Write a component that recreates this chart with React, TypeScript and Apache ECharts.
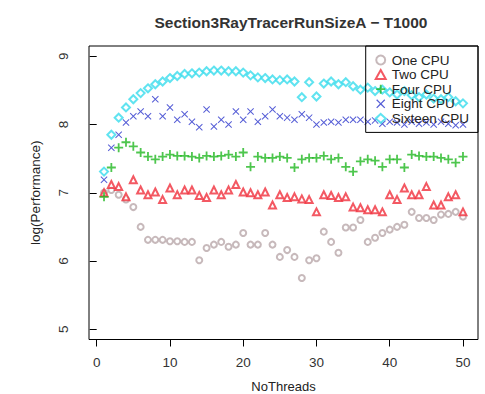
import React, { useEffect, useRef } from "react";
import * as echarts from "echarts";

const threads = Array.from({ length: 50 }, (_, i) => i + 1);

const oneCPU = [7.00, 7.04, 6.97, 6.90, 6.79, 6.50, 6.31, 6.31, 6.31, 6.29, 6.29, 6.28, 6.28, 6.01, 6.19, 6.24, 6.28, 6.21, 6.24, 6.41, 6.24, 6.24, 6.41, 6.24, 6.06, 6.16, 6.06, 5.75, 6.01, 6.04, 6.43, 6.28, 6.12, 6.49, 6.49, 6.60, 6.28, 6.34, 6.41, 6.46, 6.50, 6.53, 6.72, 6.63, 6.63, 6.60, 6.68, 6.69, 6.72, 6.65];
const twoCPU = [7.00, 7.12, 7.09, 6.94, 7.19, 7.04, 6.97, 7.01, 6.90, 7.07, 6.97, 7.04, 7.04, 6.96, 6.93, 7.04, 6.97, 7.04, 7.12, 7.01, 7.00, 6.97, 7.01, 6.82, 6.97, 6.93, 6.94, 6.91, 6.90, 6.72, 6.97, 6.96, 6.93, 6.94, 6.79, 6.78, 6.75, 6.75, 6.72, 6.97, 6.90, 7.07, 6.97, 6.97, 7.09, 6.82, 6.82, 6.94, 6.97, 6.72];
const fourCPU = [6.94, 7.37, 7.66, 7.74, 7.68, 7.59, 7.53, 7.49, 7.53, 7.56, 7.54, 7.54, 7.53, 7.51, 7.54, 7.53, 7.54, 7.56, 7.53, 7.59, 7.38, 7.53, 7.51, 7.51, 7.53, 7.51, 7.37, 7.49, 7.51, 7.51, 7.54, 7.49, 7.51, 7.38, 7.31, 7.46, 7.49, 7.47, 7.38, 7.49, 7.49, 7.37, 7.56, 7.54, 7.53, 7.53, 7.51, 7.49, 7.44, 7.53];
const eightCPU = [7.19, 7.66, 7.85, 8.03, 8.12, 8.19, 8.12, 8.37, 8.12, 8.25, 8.07, 8.15, 8.04, 7.96, 8.22, 7.97, 8.07, 8.00, 8.19, 8.07, 8.19, 8.04, 8.12, 8.22, 8.12, 8.10, 8.07, 8.15, 8.10, 8.00, 8.03, 8.04, 8.03, 8.07, 8.07, 8.07, 8.04, 8.06, 8.01, 8.04, 8.03, 8.00, 8.04, 8.01, 8.03, 8.00, 8.04, 8.01, 7.99, 8.00];
const sixteenCPU = [7.31, 7.85, 8.10, 8.25, 8.37, 8.46, 8.53, 8.59, 8.63, 8.68, 8.71, 8.74, 8.75, 8.76, 8.78, 8.79, 8.79, 8.78, 8.78, 8.76, 8.72, 8.69, 8.68, 8.66, 8.65, 8.66, 8.63, 8.40, 8.62, 8.41, 8.60, 8.63, 8.59, 8.62, 8.56, 8.51, 8.54, 8.49, 8.51, 8.47, 8.44, 8.49, 8.43, 8.40, 8.44, 8.38, 8.37, 8.40, 8.34, 8.31];

const xTicks = [0, 10, 20, 30, 40, 50];
const yTicks = [5, 6, 7, 8, 9];

const PLUS = "path://M4,0H6V4H10V6H6V10H4V6H0V4H4Z";
const CROSS = "path://M1,0L5,4L9,0L10,1L6,5L10,9L9,10L5,6L1,10L0,9L4,5L0,1Z";

const FONT = "Liberation Sans, Arial, sans-serif";

export default function App() {
  const ref = useRef<HTMLDivElement>(null);
  useEffect(() => {
    document.body.style.margin = "0";
    const chart = echarts.init(ref.current!, undefined, { renderer: "svg" });
    const mk = (name: string, vals: number[], symbol: string, color: string, size: number, empty: boolean) => ({
      name,
      type: "scatter",
      data: threads.map((t, i) => [t, vals[i]]),
      symbol,
      symbolSize: size,
      itemStyle: empty ? { color, borderWidth: 1.2 } : { color },
    });
    chart.setOption({
      animation: false,
      backgroundColor: "#ffffff",
      textStyle: { fontFamily: FONT },
      title: {
        text: "Section3RayTracerRunSizeA \u2212 T1000",
        left: 286,
        top: 9,
        textAlign: "center",
        textStyle: { fontFamily: FONT, fontSize: 15.5, fontWeight: "bold", color: "#333" },
      },
      grid: {
        left: 89, right: 7, top: 46, bottom: 54.5,
        outerBoundsMode: "none",
        containLabel: false,
        show: true, borderColor: "#000", borderWidth: 1, backgroundColor: "transparent",
      },
      legend: {
        right: 7,
        top: 46,
        orient: "vertical",
        padding: [7, 9, 7, 9],
        itemWidth: 10,
        itemHeight: 9,
        itemGap: 0.6,
        borderColor: "#000",
        borderWidth: 1,
        backgroundColor: "transparent",
        textStyle: { fontFamily: FONT, fontSize: 13.5, lineHeight: 14, color: "#222", padding: [0, 0, 0, 1] },
        data: ["One CPU", "Two CPU", "Four CPU", "Eight CPU", "Sixteen CPU"],
      },
      xAxis: {
        type: "value",
        min: -1.05,
        max: 52.05,
        axisLine: { show: false },
        axisTick: { show: true, customValues: xTicks, length: 7, lineStyle: { color: "#000" } },
        axisLabel: { customValues: xTicks, margin: 16, fontSize: 13.5, color: "#333", fontFamily: FONT },
        splitLine: { show: false },
        name: "NoThreads",
        nameLocation: "middle",
        nameGap: 40,
        nameTextStyle: { fontSize: 13, color: "#222", fontFamily: FONT },
      },
      yAxis: {
        type: "value",
        min: 4.85,
        max: 9.15,
        axisLine: { show: false },
        axisTick: { show: true, customValues: yTicks, length: 7, lineStyle: { color: "#000" } },
        axisLabel: { customValues: yTicks, margin: 19, rotate: 90, fontSize: 13.5, color: "#333", fontFamily: FONT },
        splitLine: { show: false },
        name: "log(Performance)",
        nameLocation: "middle",
        nameRotate: 90,
        nameGap: 47,
        nameTextStyle: { fontSize: 13.5, color: "#222", fontFamily: FONT },
      },
      series: [
        mk("One CPU", oneCPU, "emptyCircle", "#b9a8aa", 6, true),
        mk("Two CPU", twoCPU, "emptyTriangle", "#f0303c", 7, true),
        mk("Four CPU", fourCPU, PLUS, "#22b822", 9, false),
        mk("Eight CPU", eightCPU, CROSS, "#2a34cc", 7, false),
        mk("Sixteen CPU", sixteenCPU, "emptyDiamond", "#38dcec", 8, true),
      ],
    });
    return () => chart.dispose();
  }, []);
  return <div ref={ref} style={{ position: "fixed", left: 0, top: 0, width: 485, height: 394 }} />;
}
